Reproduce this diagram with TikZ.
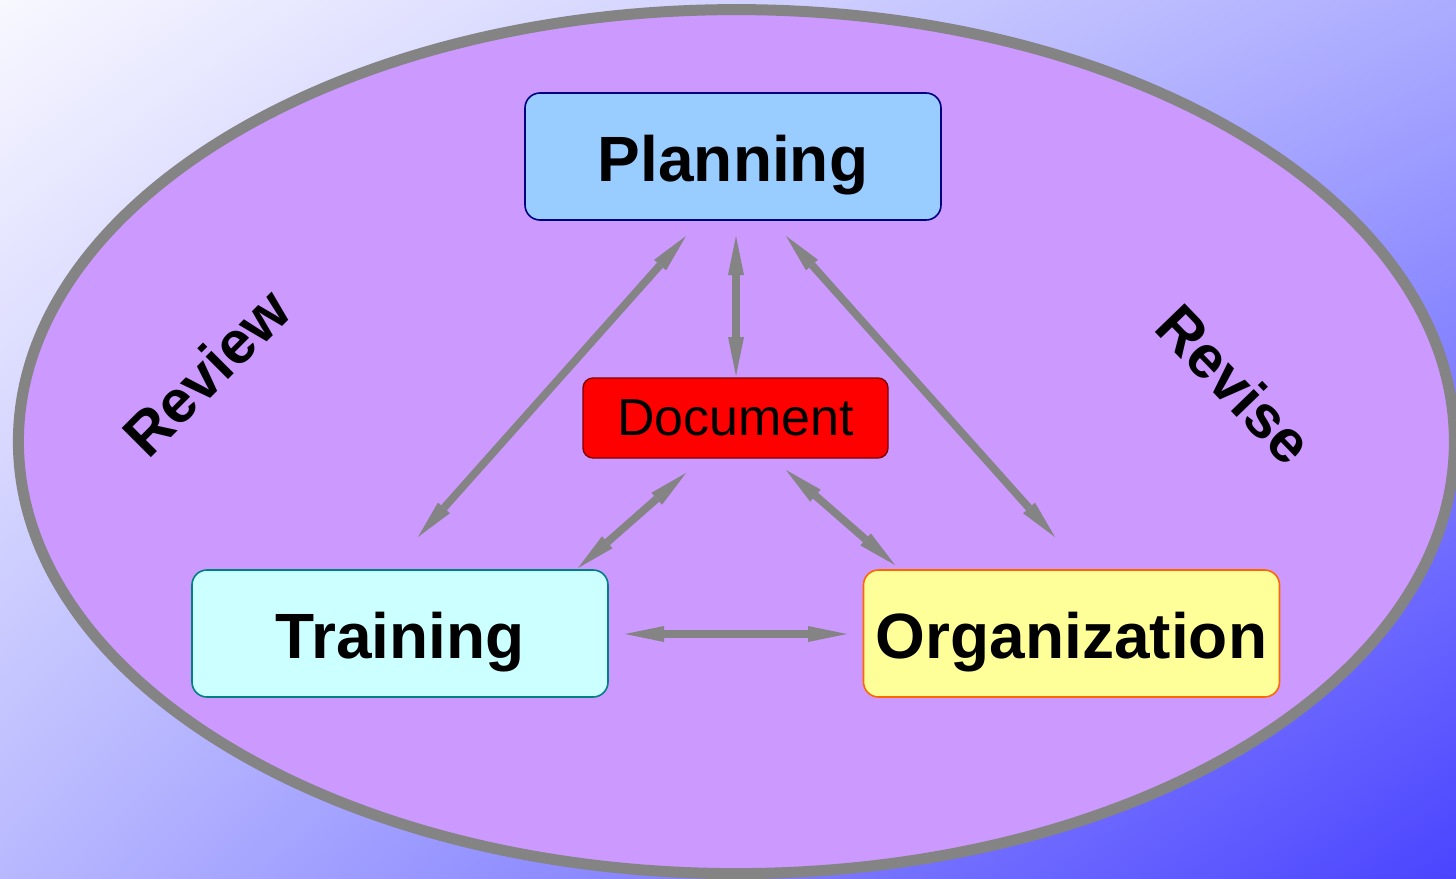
\documentclass[tikz,border=0pt]{standalone}
\usepackage{fontspec}
\setmainfont{Liberation Sans}
\usetikzlibrary{arrows.meta,shapes.geometric,shadings}
\definecolor{ellfill}{HTML}{CC99FF}
\definecolor{ellline}{HTML}{848484}
\definecolor{arrgray}{HTML}{848484}
\definecolor{planfill}{HTML}{99CCFF}
\definecolor{planline}{HTML}{000080}
\definecolor{trainfill}{HTML}{CCFFFF}
\definecolor{trainline}{HTML}{008080}
\definecolor{orgfill}{HTML}{FFFF99}
\definecolor{orgline}{HTML}{FF6600}
\definecolor{docfill}{HTML}{FF0000}
\definecolor{docline}{HTML}{800000}
\definecolor{bgtl}{HTML}{F8F8FF}
\definecolor{bgtr}{HTML}{ACACFF}
\definecolor{bgbl}{HTML}{B8B8FF}
\definecolor{bgbr}{HTML}{4A44FF}
\tikzset{
  bigbox/.style={draw, line width=1.6pt, rounded corners=15pt, minimum width=416pt, minimum height=127pt, inner sep=0pt, text height=50pt, text depth=0pt, font=\fontsize{64}{70}\selectfont\bfseries},
  docbox/.style={draw=docline, fill=docfill, line width=1.4pt, rounded corners=10pt, minimum width=305pt, minimum height=80pt, inner sep=0pt, font=\fontsize{52}{60}\selectfont},
  sidelabel/.style={font=\fontsize{60}{66}\selectfont\bfseries, inner sep=0pt},
  tipshape/.tip={Triangle[length=39pt,width=16pt,line width=0pt]},
  link/.style={draw=arrgray, line width=7.7pt, tipshape-tipshape}
}
\begin{document}
\begin{tikzpicture}[x=1pt,y=-1pt]
\useasboundingbox (0,0) rectangle (1456,878);
\shade[upper left=bgtl, upper right=bgtr, lower left=bgbl, lower right=bgbr] (0,0) rectangle (1456,878);
\node[draw=ellline, fill=ellfill, line width=11pt, ellipse, minimum width=1436pt, minimum height=864pt, inner sep=0pt] (ell) at (736.4,441.6) {};
\node[bigbox, draw=planline, fill=planfill] (plan) at (733,156.5) {Planning};
\node[bigbox, draw=trainline, fill=trainfill] (train) at (400,633.5) {Training};
\node[bigbox, draw=orgline, fill=orgfill] (org) at (1071.5,633.5) {Organization};
\node[docbox] (doc) at (735.5,418) {Document};
\node[sidelabel, rotate=45] (review) at (206,372) {Review};
\node[sidelabel, rotate=-46] (revise) at (1235,384) {Revise};
\coordinate (pt1) at (686,236);
\coordinate (tp1) at (418,537);
\coordinate (pd1) at (736,236);
\coordinate (dp1) at (736,376);
\coordinate (po1) at (786,236);
\coordinate (op1) at (1055,537);
\coordinate (dt1) at (686,473);
\coordinate (td1) at (578,568);
\coordinate (do1) at (786,470);
\coordinate (od1) at (895,565);
\coordinate (to1) at (625,634);
\coordinate (ot1) at (847,634);
\draw[link] (pt1) -- (tp1);
\draw[link] (pd1) -- (dp1);
\draw[link] (po1) -- (op1);
\draw[link] (dt1) -- (td1);
\draw[link] (do1) -- (od1);
\draw[link] (to1) -- (ot1);
\end{tikzpicture}
\end{document}
